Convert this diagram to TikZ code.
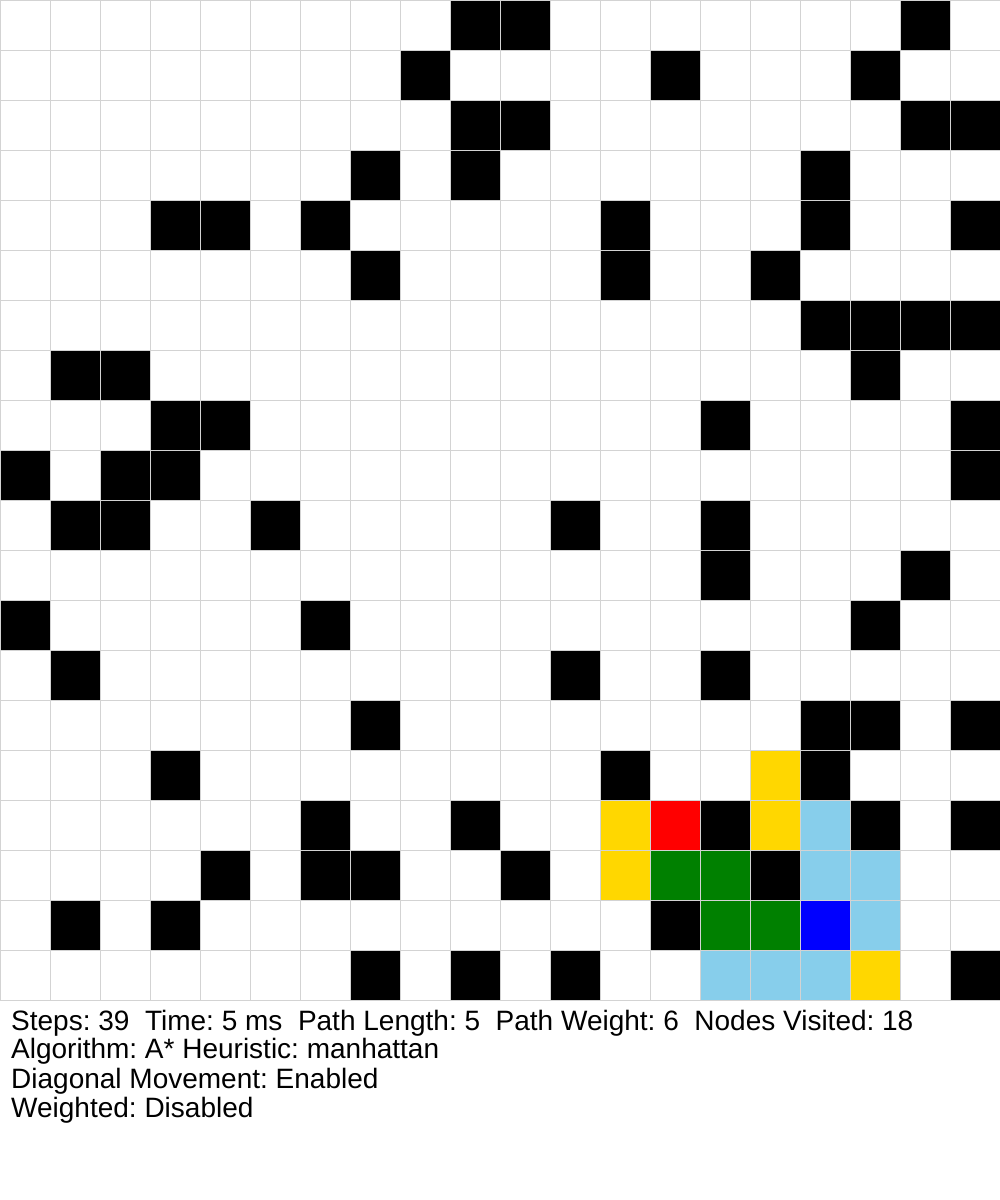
\documentclass[tikz,border=0pt]{standalone}
\usepackage{fontspec}
\setmainfont{Liberation Sans}
\usetikzlibrary{positioning}
\definecolor{GridGray}{RGB}{211,211,211}
\definecolor{OpenGold}{RGB}{255,215,0}
\definecolor{PathGreen}{RGB}{0,128,0}
\definecolor{ClosedSky}{RGB}{135,206,235}
\definecolor{StartRed}{RGB}{255,0,0}
\definecolor{GoalBlue}{RGB}{0,0,255}
\frenchspacing

\begin{document}
\begin{tikzpicture}[x=50pt, y=-50pt,
    cell/.style={draw=GridGray, line width=1pt},
    stat/.style={anchor=base west, inner sep=0pt, font=\fontsize{28}{29}\selectfont}]
    \useasboundingbox[fill=white] (0,0) rectangle (20,24);

    % empty grid
    \foreach \r in {0,...,19}
      \foreach \c in {0,...,19}
        \draw[cell, fill=white] (\c,\r) rectangle ++(1,1);

    % walls
    \foreach \c/\r in {9/0,10/0,18/0, 8/1,13/1,17/1, 9/2,10/2,18/2,19/2, 7/3,9/3,16/3,
        3/4,4/4,6/4,12/4,16/4,19/4, 7/5,12/5,15/5, 16/6,17/6,18/6,19/6, 1/7,2/7,17/7,
        3/8,4/8,14/8,19/8, 0/9,2/9,3/9,19/9, 1/10,2/10,5/10,11/10,14/10, 14/11,18/11,
        0/12,6/12,17/12, 1/13,11/13,14/13, 7/14,16/14,17/14,19/14, 3/15,12/15,16/15,
        6/16,9/16,14/16,17/16,19/16, 4/17,6/17,7/17,10/17,15/17, 1/18,3/18,13/18,
        7/19,9/19,11/19,19/19}
      \draw[cell, fill=black] (\c,\r) rectangle ++(1,1);

    % open set
    \foreach \c/\r in {15/15,12/16,15/16,12/17,17/19}
      \draw[cell, fill=OpenGold] (\c,\r) rectangle ++(1,1);

    % closed set
    \foreach \c/\r in {16/16,16/17,17/17,17/18,14/19,15/19,16/19}
      \draw[cell, fill=ClosedSky] (\c,\r) rectangle ++(1,1);

    % path
    \foreach \c/\r in {13/17,14/17,14/18,15/18}
      \draw[cell, fill=PathGreen] (\c,\r) rectangle ++(1,1);

    \draw[cell, fill=StartRed] (13,16) rectangle ++(1,1);
    \draw[cell, fill=GoalBlue] (16,18) rectangle ++(1,1);

    % stats
    \node[stat] (steps) at (0.22,20.6) {Steps: 39\ \ Time: 5 ms\ \ Path Length: 5\ \ Path Weight: 6\ \ Nodes Visited: 18};
    \node[stat] (algo) at (0.22,21.17) {Algorithm: A* Heuristic: manhattan};
    \node[stat] (diag) at (0.22,21.76) {Diagonal Movement: Enabled};
    \node[stat] (weight) at (0.22,22.34) {Weighted: Disabled};
\end{tikzpicture}
\end{document}
